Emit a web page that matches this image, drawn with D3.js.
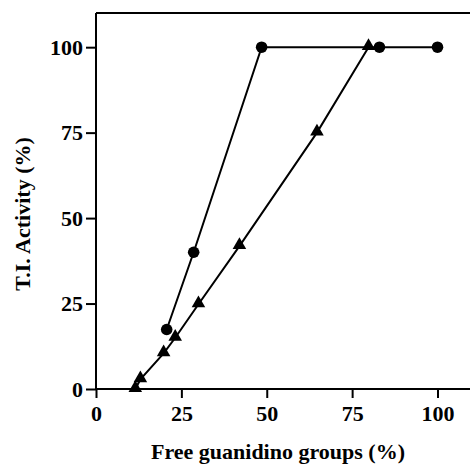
<!DOCTYPE html>
<html>
<head>
<meta charset="utf-8">
<script src="https://cdn.jsdelivr.net/npm/d3@7"></script>
<style>
  body { margin: 0; background: #fff; }
  text { font-family: "Liberation Serif", "Times New Roman", serif; font-weight: bold; fill: #000; }
</style>
</head>
<body>
<script>
// circles series
var circleX = [20.7, 28.6, 48.5, 83, 100];
var circleY = [17.4, 40, 100, 100, 100];
// triangles series
var triX = [11.5, 13, 19.8, 23.2, 30, 42, 64.7, 79.8];
var triY = [0, 2.8, 10.4, 15, 24.8, 41.8, 75, 100];
var ticks = [0, 25, 50, 75, 100];

var width = 470, height = 468;
var margin = {top: 13, right: 0, bottom: 79, left: 96};

var svg = d3.select("body").append("svg")
    .attr("width", width)
    .attr("height", height);

var x = d3.scaleLinear().domain([0, 110]).range([margin.left, margin.left + 110 * 3.415]);
var y = d3.scaleLinear().domain([0, 110]).range([height - margin.bottom, margin.top]);

// frame top
svg.append("line")
    .attr("x1", x(0)).attr("x2", width)
    .attr("y1", y(110)).attr("y2", y(110))
    .attr("stroke", "#000").attr("stroke-width", 2);

var xAxis = svg.append("g")
    .attr("transform", "translate(0," + y(0) + ")")
    .call(d3.axisBottom(x).tickValues(ticks).tickSize(9).tickPadding(7));
var yAxis = svg.append("g")
    .attr("transform", "translate(" + x(0) + ",0)")
    .call(d3.axisLeft(y).tickValues(ticks).tickSize(10).tickPadding(3));

[xAxis, yAxis].forEach(function(a) {
  a.select(".domain").attr("stroke-width", 2);
  a.selectAll(".tick line").attr("stroke-width", 2);
  a.selectAll(".tick text").style("font-size", "22px");
});
xAxis.select(".domain").attr("d", "M" + x(0) + ",0H" + width);
yAxis.select(".domain").attr("d", "M0," + y(0) + "V" + y(110));

var line = d3.line().x(function(d) { return x(d[0]); }).y(function(d) { return y(d[1]); });
var circ = circleX.map(function(v, i) { return [v, circleY[i]]; });
var tri = triX.map(function(v, i) { return [v, triY[i]]; });

svg.append("path").datum(circ).attr("d", line)
    .attr("fill", "none").attr("stroke", "#000").attr("stroke-width", 2);
svg.append("path").datum(tri).attr("d", line)
    .attr("fill", "none").attr("stroke", "#000").attr("stroke-width", 2);

svg.selectAll(".dot").data(circ).enter().append("circle")
    .attr("cx", function(d) { return x(d[0]); })
    .attr("cy", function(d) { return y(d[1]); })
    .attr("r", 5.8).attr("fill", "#000");

var triSym = d3.symbol().type(d3.symbolTriangle).size(80);
svg.selectAll(".tri").data(tri).enter().append("path")
    .attr("transform", function(d) { return "translate(" + x(d[0]) + "," + (y(d[1]) - 1) + ")"; })
    .attr("d", triSym).attr("fill", "#000");

svg.append("text")
    .attr("x", 278).attr("y", 459)
    .attr("text-anchor", "middle")
    .style("font-size", "22px")
    .text("Free guanidino groups (%)");

svg.append("text")
    .attr("transform", "translate(30,214) rotate(-90)")
    .attr("text-anchor", "middle")
    .style("font-size", "22px")
    .text("T.I. Activity (%)");
</script>
</body>
</html>
